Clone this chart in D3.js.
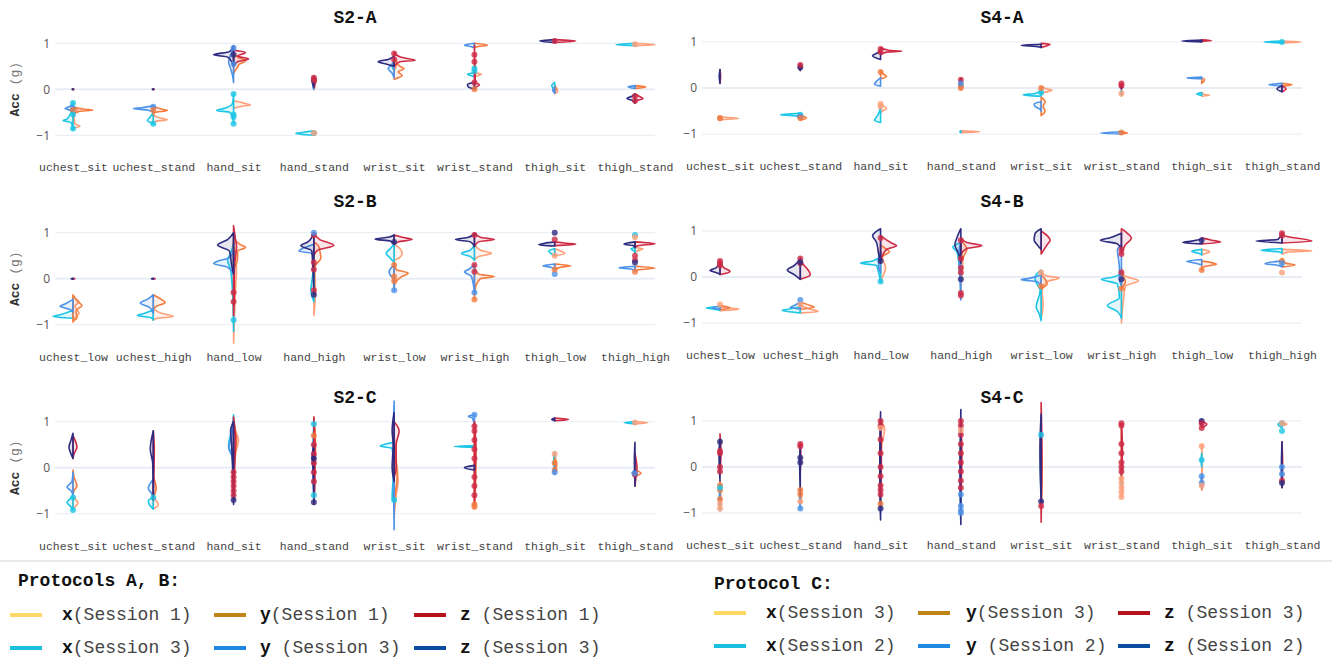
<!DOCTYPE html>
<html>
<head>
<meta charset="utf-8">
<script src="https://cdn.jsdelivr.net/npm/d3@7"></script>
<style>
  body { margin: 0; background: #fff; }
  svg text { font-family: "Liberation Mono", "Courier New", monospace; }
</style>
</head>
<body>
<svg id="chart" width="1332" height="660"></svg>
<script>
// categories
var catsSit = ["uchest_sit", "uchest_stand", "hand_sit", "hand_stand", "wrist_sit", "wrist_stand", "thigh_sit", "thigh_stand"];
var catsLow = ["uchest_low", "uchest_high", "hand_low", "hand_high", "wrist_low", "wrist_high", "thigh_low", "thigh_high"];
var yTicks = [-1, 0, 1];

// series order: x1, y1, z1 (right half), x3, y3, z3 (left half)
// each violin: [value, density, value, density, ...] from top to bottom
var S2A = [
  [[-0.4,0,-0.45,0.2,-0.55,0.05,-0.75,0.1,-0.8,0.35,-0.85,0], [-0.38,0,-0.43,0.5,-0.45,1.0,-0.48,0.3,-0.55,0], [0.01,0,0,0.05,-0.01,0],
   [-0.3,0,-0.5,0.1,-0.65,0.3,-0.68,0.5,-0.72,0.1,-0.88,0], [-0.3,0,-0.38,0.2,-0.42,0.4,-0.46,0.1,-0.55,0], [0.01,0,0,0.05,-0.01,0]],
  [[-0.55,0,-0.62,0.3,-0.66,0.7,-0.7,0.1,-0.75,0], [-0.38,0,-0.44,0.5,-0.46,0.7,-0.5,0.1,-0.55,0], [0.01,0,0,0.05,-0.01,0],
   [-0.5,0,-0.6,0.15,-0.68,0.3,-0.75,0], [-0.36,0,-0.4,0.6,-0.42,1.0,-0.45,0.3,-0.5,0], [0.01,0,0,0.05,-0.01,0]],
  [[-0.25,0,-0.3,0.5,-0.34,0.85,-0.37,0.4,-0.42,0], [0.8,0,0.7,0.2,0.62,0.6,0.55,0.3,0.45,0.15,0.35,0], [0.85,0,0.8,0.6,0.72,0.2,0.66,0.75,0.6,0.2,0.5,0],
   [-0.1,0,-0.3,0.05,-0.42,0.5,-0.46,0.85,-0.5,0.2,-0.6,0.05,-0.75,0], [0.92,0,0.8,0.1,0.6,0.25,0.45,0.15,0.3,0.05,0.15,0], [0.95,0,0.82,0.2,0.75,1.0,0.7,0.3,0.6,0.1,0.5,0]],
  [[-0.93,0,-0.95,0.15,-0.97,0], [0.1,0,0.05,0.05,0,0], [0.28,0,0.2,0.12,0.1,0.05,0.05,0],
   [-0.9,0,-0.94,0.6,-0.96,0.9,-1.0,0], [0.1,0,0.05,0.05,0,0], [0.28,0,0.2,0.1,0.1,0.05,0.05,0]],
  [[0.7,0,0.6,0.15,0.5,0.1,0.4,0], [0.62,0,0.5,0.3,0.45,0.5,0.38,0.2,0.3,0.4,0.22,0], [0.8,0,0.7,0.3,0.63,1.05,0.6,0.3,0.5,0],
   [0.6,0,0.5,0.1,0.4,0], [0.6,0,0.5,0.2,0.45,0.3,0.35,0.1,0.25,0], [0.72,0,0.65,0.3,0.6,0.8,0.55,0.4,0.5,0]],
  [[0.36,0,0.33,0.35,0.3,0.2,0.27,0], [1.0,0,0.96,0.65,0.93,0.2,0.9,0], [0.95,0,0.6,0.02,0.15,0.05,0.1,0.25,0.05,0.1,0,0],
   [0.36,0,0.33,0.35,0.3,0.2,0.27,0], [1.0,0,0.96,0.5,0.93,0.2,0.9,0], [0.15,0,0.1,0.35,0.05,0.3,0,0]],
  [[0.1,0,0.02,0.1,-0.05,0.15,-0.1,0], [0.05,0,0,0.08,-0.05,0], [1.08,0,1.05,1.05,1.02,0],
   [0.15,0,0.08,0.15,0,0.05,-0.08,0], [0.05,0,-0.02,0.1,-0.08,0], [1.08,0,1.05,0.75,1.02,0]],
  [[1.0,0,0.97,1.0,0.95,0], [0.08,0,0.05,0.55,0.02,0], [-0.1,0,-0.15,0.2,-0.2,0.4,-0.25,0.1,-0.3,0],
   [1.0,0,0.97,0.95,0.95,0], [0.08,0,0.05,0.35,0.02,0], [-0.1,0,-0.15,0.15,-0.2,0.4,-0.25,0.1,-0.3,0]]
];

var S4A = [
  [[-0.63,0,-0.66,0.95,-0.69,0], [-0.62,0,-0.65,0.1,-0.68,0], [0.4,0,0.25,0.03,0.1,0],
   [-0.63,0,-0.66,0.1,-0.69,0], [-0.62,0,-0.65,0.05,-0.68,0], [0.4,0,0.25,0.04,0.1,0]],
  [[-0.58,0,-0.62,0.15,-0.66,0.1,-0.7,0], [-0.6,0,-0.65,0.3,-0.7,0], [0.52,0,0.45,0.08,0.38,0],
   [-0.55,0,-0.58,1.0,-0.61,0.1,-0.64,0], [-0.58,0,-0.62,0.15,-0.66,0], [0.52,0,0.45,0.08,0.38,0]],
  [[-0.35,0,-0.45,0.3,-0.5,0.1,-0.55,0], [0.38,0,0.3,0.15,0.25,0.3,0.2,0], [0.88,0,0.82,0.4,0.8,1.05,0.78,0.3,0.72,0],
   [-0.4,0,-0.5,0.05,-0.6,0.15,-0.7,0.3,-0.75,0], [0.22,0,0.15,0.2,0.08,0.3,0.04,0], [0.85,0,0.78,0.1,0.7,0.4,0.62,0]],
  [[-0.93,0,-0.95,0.95,-0.97,0], [0.05,0,0,0.05,-0.02,0], [0.2,0,0.1,0.05,0.05,0],
   [-0.93,0,-0.95,0.05,-0.97,0], [0.1,0,0.05,0.05,0,0], [0.2,0,0.1,0.05,0.05,0]],
  [[0.02,0,-0.02,0.3,-0.05,0.55,-0.1,0.15,-0.15,0], [-0.2,0,-0.3,0.2,-0.4,0.1,-0.5,0.2,-0.6,0], [0.97,0,0.95,0.45,0.92,0.3,0.88,0],
   [-0.05,0,-0.12,0.3,-0.15,0.9,-0.18,0], [-0.3,0,-0.35,0.35,-0.4,0.3,-0.45,0.1,-0.5,0], [0.95,0,0.93,1.0,0.9,0.2,0.88,0]],
  [[-0.05,0,-0.1,0.05,-0.18,0], [-0.95,0,-0.98,0.3,-1.0,0], [0.1,0,0.05,0.06,-0.02,0],
   [-0.05,0,-0.1,0.03,-0.15,0], [-0.95,0,-0.98,1.05,-1.0,0], [0.1,0,0.05,0.06,-0.02,0]],
  [[-0.1,0,-0.14,0.15,-0.16,0.4,-0.18,0], [0.22,0,0.18,0.15,0.14,0.1,0.1,0], [1.05,0,1.03,0.5,1.01,0],
   [-0.1,0,-0.13,0.25,-0.16,0], [0.24,0,0.22,0.75,0.2,0], [1.04,0,1.02,1.0,1.0,0]],
  [[1.02,0,1.0,0.95,0.98,0], [0.1,0,0.07,0.5,0.04,0], [0.05,0,-0.02,0.2,-0.08,0],
   [1.02,0,1.0,0.9,0.98,0], [0.1,0,0.07,0.65,0.04,0], [0.05,0,-0.02,0.25,-0.08,0]]
];

var S2B = [
  [[-0.4,0,-0.5,0.3,-0.6,0.1,-0.75,0.3,-0.85,0.1,-0.95,0], [-0.35,0,-0.5,0.25,-0.58,0.45,-0.7,0.15,-0.85,0.2,-0.92,0], [0.01,0,0,0.1,-0.01,0],
   [-0.68,0,-0.78,0.6,-0.82,1.0,-0.86,0], [-0.45,0,-0.55,0.4,-0.6,0.65,-0.66,0.2,-0.72,0], [0.01,0,0,0.1,-0.01,0]],
  [[-0.65,0,-0.75,0.4,-0.82,1.0,-0.86,0.2,-0.9,0], [-0.35,0,-0.45,0.4,-0.52,0.6,-0.6,0.15,-0.68,0], [0.01,0,0,0.1,-0.01,0],
   [-0.68,0,-0.76,0.5,-0.8,0.8,-0.85,0.1,-0.9,0], [-0.35,0,-0.45,0.3,-0.53,0.65,-0.62,0.2,-0.75,0], [0.01,0,0,0.1,-0.01,0]],
  [[0.8,0,0.5,0.1,0.2,0.15,-0.2,0.1,-0.8,0.05,-1.4,0], [0.9,0,0.75,0.3,0.68,0.6,0.6,0.2,0.45,0.2,0.2,0], [1.15,0,0.85,0.1,0.7,0.15,0.3,0.05,-0.5,0.03,-0.8,0],
   [0.8,0,0.6,0.1,0.4,0.3,0.2,0.15,-0.5,0.03,-1.15,0], [0.6,0,0.45,0.25,0.38,0.8,0.33,1.0,0.25,0.3,0.1,0], [1.0,0,0.85,0.3,0.73,0.8,0.6,0.2,0.3,0.1,0.1,0]],
  [[0.5,0,0.2,0.05,-0.3,0.08,-0.8,0], [0.8,0,0.7,0.25,0.6,0.3,0.45,0.35,0.3,0.1,0.2,0], [1.0,0,0.85,0.3,0.72,1.0,0.62,0.2,0.5,0],
   [0.3,0,0,0.08,-0.25,0.15,-0.5,0], [0.75,0,0.65,0.6,0.6,0.75,0.55,0.1,0.4,0], [1.0,0,0.8,0.3,0.72,0.65,0.6,0.1,-0.35,0]],
  [[0.75,0,0.65,0.3,0.55,0.4,0.45,0.25,0.4,0], [0.35,0,0.2,0.1,0.12,0.7,0.05,0.4,-0.1,0.05,-0.2,0], [0.95,0,0.9,0.4,0.85,0.9,0.8,0.2,0.75,0],
   [0.75,0,0.65,0.2,0.55,0.4,0.45,0.2,0.35,0], [0.3,0,0.15,0.25,0.08,0.2,0,0.05,-0.25,0], [0.95,0,0.9,0.3,0.86,0.95,0.82,0.2,0.75,0]],
  [[0.75,0,0.62,0.3,0.55,0.85,0.48,0.2,0.4,0], [0.25,0,0.1,0.2,0.05,1.0,0,0.3,-0.2,0.05,-0.45,0], [1.0,0,0.9,0.3,0.85,1.0,0.8,0.2,0.7,0],
   [0.75,0,0.62,0.2,0.55,0.65,0.48,0.2,0.4,0], [0.3,0,0.2,0.3,0.15,0.5,0.05,0.15,-0.3,0], [0.98,0,0.9,0.3,0.85,0.95,0.8,0.2,0.7,0]],
  [[0.65,0,0.6,0.3,0.55,0.5,0.5,0], [0.32,0,0.28,0.8,0.25,0.3,0.2,0], [0.8,0,0.77,0.6,0.75,1.05,0.72,0],
   [0.65,0,0.6,0.3,0.55,0.2,0.5,0], [0.32,0,0.28,0.6,0.25,0.2,0.2,0], [0.8,0,0.77,0.5,0.74,0.8,0.71,0]],
  [[0.68,0,0.65,0.4,0.6,0.1,0.55,0], [0.27,0,0.23,1.0,0.2,0.3,0.17,0], [0.8,0,0.76,1.0,0.72,0.2,0.68,0],
   [0.68,0,0.65,0.2,0.6,0.05,0.55,0], [0.27,0,0.24,0.8,0.21,0.2,0.17,0], [0.8,0,0.75,0.55,0.72,0.1,0.68,0]]
];

var S4B = [
  [[-0.65,0,-0.68,0.6,-0.7,0.95,-0.73,0], [-0.62,0,-0.67,0.5,-0.71,0], [0.35,0,0.2,0.2,0.12,0.5,0.08,0.3,0.05,0],
   [-0.64,0,-0.67,0.7,-0.7,0.3,-0.73,0], [-0.63,0,-0.67,0.4,-0.7,0], [0.32,0,0.2,0.2,0.14,0.5,0.1,0.2,0.06,0]],
  [[-0.62,0,-0.7,0.5,-0.75,0.9,-0.78,0], [-0.55,0,-0.62,0.5,-0.66,0.7,-0.7,0], [0.42,0,0.3,0.1,0.2,0.3,0.05,0.5,-0.05,0],
   [-0.65,0,-0.7,0.6,-0.73,0.9,-0.78,0], [-0.55,0,-0.62,0.3,-0.66,0.5,-0.7,0], [0.4,0,0.25,0.3,0.15,0.65,0.05,0.3,-0.05,0]],
  [[0.55,0,0.4,0.1,0.2,0.25,0,0.1,-0.1,0], [0.7,0,0.6,0.3,0.55,0.45,0.48,0.2,0.4,0], [0.9,0,0.75,0.5,0.68,0.8,0.6,0.3,0.35,0],
   [0.45,0,0.35,0.4,0.3,1.0,0.25,0.2,0.1,0.1,-0.1,0], [0.55,0,0.4,0.1,0.2,0.1,0.1,0], [1.05,0,0.9,0.4,0.75,0.2,0.5,0.1,0.3,0]],
  [[0.6,0,0.4,0.1,0,0.05,-0.3,0], [0.8,0,0.6,0.3,0.5,0.2,0.3,0], [0.85,0,0.75,0.3,0.68,1.05,0.62,0.3,0.5,0],
   [0.75,0,0.65,0.4,0.55,0.2,0.3,0.1,-0.1,0], [0.8,0,0.5,0.1,0,0.05,-0.5,0], [1.05,0,0.85,0.2,0.7,0.3,0.5,0.1,0.3,0]],
  [[0.1,0,0.02,0.3,-0.02,0.9,-0.1,0.3,-0.3,0.05,-0.6,0.1,-0.9,0], [0.05,0,-0.05,0.2,-0.15,0.3,-0.25,0], [1.0,0,0.9,0.3,0.8,0.45,0.7,0.3,0.5,0],
   [0.15,0,0,0.3,-0.05,0.3,-0.3,0.05,-0.65,0.25,-0.8,0.1,-0.95,0], [0.05,0,-0.03,0.6,-0.06,1.0,-0.1,0.2,-0.2,0], [1.05,0,0.95,0.3,0.8,0.35,0.7,0.2,0.6,0]],
  [[0.1,0,0,0.3,-0.08,0.85,-0.2,0.2,-0.5,0.1,-1.0,0], [0.2,0,0,0.1,-0.1,0.2,-0.25,0], [1.05,0,0.95,0.3,0.85,0.5,0.7,0.2,0.5,0],
   [0.1,0,0,0.4,-0.05,1.0,-0.15,0.2,-0.45,0.1,-0.62,0.7,-0.75,0.2,-0.9,0], [0.7,0,0.6,0.2,0.2,0.1,-0.05,0.1,-0.2,0], [0.95,0,0.85,0.6,0.8,1.05,0.72,0.2,0.6,0]],
  [[0.6,0,0.55,0.4,0.5,0.1,0.48,0], [0.35,0,0.3,0.6,0.28,0.75,0.22,0.1,0.15,0], [0.85,0,0.8,0.5,0.76,0.95,0.72,0],
   [0.6,0,0.56,0.5,0.52,0.2,0.48,0], [0.38,0,0.34,0.75,0.3,0.3,0.26,0], [0.82,0,0.78,0.5,0.75,0.95,0.72,0]],
  [[0.6,0,0.57,1.5,0.54,0.3,0.5,0], [0.4,0,0.3,0.2,0.26,0.65,0.22,0], [0.97,0,0.9,0.1,0.78,1.5,0.74,0],
   [0.62,0,0.58,1.05,0.55,0.2,0.52,0], [0.35,0,0.29,0.85,0.26,0.3,0.22,0], [0.95,0,0.82,0.2,0.78,1.3,0.74,0]]
];

var S2C = [
  [[-0.6,0,-0.7,0.15,-0.76,0.25,-0.85,0.1,-0.9,0], [-0.05,0,-0.2,0.05,-0.4,0.2,-0.5,0.05,-0.6,0], [0.7,0,0.6,0.1,0.45,0.2,0.3,0.05,0.2,0],
   [-0.62,0,-0.7,0.2,-0.75,0.3,-0.85,0.1,-0.92,0], [-0.1,0,-0.3,0.05,-0.42,0.3,-0.5,0.1,-0.6,0], [0.75,0,0.6,0.1,0.45,0.2,0.3,0.1,0.2,0]],
  [[-0.6,0,-0.72,0.15,-0.8,0.25,-0.9,0], [-0.2,0,-0.45,0.15,-0.6,0.05,-0.7,0], [0.8,0,0.4,0.05,-0.2,0.03,-0.7,0],
   [-0.65,0,-0.72,0.25,-0.8,0.2,-0.9,0], [-0.25,0,-0.45,0.25,-0.55,0.1,-0.65,0], [0.8,0,0.4,0.15,0.1,0.03,-0.7,0]],
  [[1.1,0,0.8,0.1,0.6,0.25,0.3,0.1,-0.6,0], [1.0,0,0.6,0.15,0.2,0.05,-0.7,0], [1.1,0,0.6,0.1,0,0.05,-0.7,0],
   [1.15,0,0.8,0.1,0.5,0.25,0.2,0.05,-0.5,0], [1.0,0,0.6,0.15,0.45,0.25,0.2,0.05,-0.7,0], [1.0,0,0.8,0.15,0.5,0.1,0,0.05,-0.8,0]],
  [[1.0,0,0.5,0.05,-0.5,0], [1.1,0,0.5,0.08,0,0.05,-0.8,0], [1.1,0,0.5,0.05,-0.3,0.05,-0.8,0],
   [1.0,0,0.3,0.05,-0.6,0], [0.8,0,0.3,0.05,-0.6,0], [0.5,0,0.25,0.08,0,0.05,-0.75,0]],
  [[0.7,0,0.2,0.1,-0.3,0.2,-0.6,0.1,-1.1,0], [0.6,0,0.2,0.08,-0.2,0.15,-0.6,0.05,-0.9,0], [1.0,0,0.8,0.25,0.5,0.1,0,0.1,-0.2,0],
   [0.55,0,0.47,0.7,0.42,0.1,0,0.02,-0.65,0.1,-0.75,0], [1.45,0,1.0,0.03,0,0.03,-1.35,0], [1.2,0,0.8,0.1,0.5,0.05,0,0.1,-0.3,0]],
  [[1.0,0,0.5,0.05,-0.5,0.05,-0.9,0], [1.0,0,0.3,0.08,-0.85,0], [1.0,0,0.5,0.06,-0.8,0],
   [0.48,0,0.46,1.0,0.44,0], [1.15,0,1.12,0.3,1.08,0.1,0.9,0], [0.05,0,0,0.5,-0.05,0]],
  [[0.3,0,0.2,0.05,0,0.05,-0.1,0], [0.2,0,0.05,0.1,-0.1,0], [1.08,0,1.05,0.7,1.02,0],
   [0.35,0,0.15,0.05,-0.1,0], [0.05,0,-0.05,0.05,-0.15,0], [1.08,0,1.05,0.15,1.02,0]],
  [[1.0,0,0.98,0.65,0.95,0], [-0.05,0,-0.12,0.3,-0.18,0], [0.3,0,0,0.1,-0.2,0.05,-0.4,0],
   [1.0,0,0.98,0.55,0.95,0], [-0.05,0,-0.12,0.15,-0.18,0], [0.55,0,0.2,0.03,-0.4,0]]
];

var S4C = [
  [[-0.3,0,-0.6,0.03,-0.95,0], [-0.3,0,-0.5,0.03,-0.8,0], [0.72,0,0.3,0.05,-0.1,0],
   [-0.4,0,-0.7,0.03,-0.95,0], [-0.5,0,-0.7,0.03,-0.9,0], [0.6,0,0.3,0.05,-0.3,0]],
  [[-0.5,0,-0.65,0.03,-0.8,0], [-0.45,0,-0.6,0.03,-0.8,0], [0.52,0,0.2,0.03,-0.1,0],
   [-0.5,0,-0.7,0.03,-0.9,0], [-0.5,0,-0.7,0.03,-0.9,0], [0.5,0,0.1,0.03,-0.6,0]],
  [[1.0,0,0.85,0.2,0.4,0.05,-0.5,0], [1.0,0,0.3,0.03,-0.9,0], [1.0,0,0.2,0.04,-0.6,0],
   [1.0,0,0,0.03,-0.9,0], [0.9,0,0,0.03,-1.0,0], [1.2,0,0,0.04,-1.15,0]],
  [[1.0,0,0.3,0.04,-0.5,0], [1.0,0,0.3,0.04,-0.5,0], [1.0,0,0.2,0.04,-0.5,0],
   [0.9,0,0,0.03,-1.0,0], [0.5,0,-0.3,0.03,-1.05,0], [1.25,0,0,0.04,-1.25,0]],
  [[0.9,0,0,0.03,-1.0,0], [0.5,0,0,0.03,-0.8,0], [1.4,0,0.2,0.04,-1.2,0],
   [0.7,0,0,0.03,-0.7,0], [0.7,0,0,0.03,-0.75,0], [1.15,0,0.4,0.06,-0.75,0]],
  [[-0.2,0,-0.4,0.05,-0.65,0], [0.9,0,0.3,0.04,-0.3,0], [0.95,0,0.4,0.05,-0.2,0],
   [0,0,-0.2,0.02,-0.4,0], [], []],
  [[0.5,0,0,0.03,-0.45,0], [-0.2,0,-0.35,0.05,-0.5,0], [1.0,0,0.93,0.25,0.85,0],
   [0.3,0,0.15,0.03,0,0], [-0.15,0,-0.3,0.03,-0.45,0], [1.03,0,0.97,0.1,0.9,0]],
  [[0.97,0,0.93,0.25,0.9,0], [-0.1,0,-0.3,0.03,-0.4,0], [0.55,0,0.1,0.03,-0.45,0],
   [0.97,0,0.93,0.2,0.85,0], [0.05,0,-0.15,0.03,-0.35,0], [0.55,0,0,0.03,-0.45,0]]
];

// sample points: [category index, series index, value]
var S2Apts = [[0,3,-0.3],[0,3,-0.85],[0,4,-0.42],[0,1,-0.45],[0,3,-0.55],[1,4,-0.38],[1,3,-0.75],[1,1,-0.45],
  [2,4,0.9],[2,5,0.75],[2,3,-0.1],[2,3,-0.55],[2,3,-0.6],[2,3,-0.75],[2,4,0.55],[3,3,-0.95],[3,0,-0.95],[3,2,0.2],[3,2,0.25],
  [4,2,0.78],[4,2,0.65],[5,2,0.75],[5,2,0.6],[5,2,0.15],[5,1,0],[5,3,0.45],[5,3,0.4],[6,2,1.05],[7,0,0.98],[7,2,-0.15],[7,2,-0.25]];
var S4Apts = [[0,0,-0.65],[0,1,-0.66],[1,5,0.45],[1,2,0.5],[1,3,-0.58],[1,4,-0.62],[1,1,-0.65],[2,2,0.85],[2,2,0.78],
  [2,1,0.35],[2,0,-0.35],[2,0,-0.4],[3,2,0.18],[3,1,0.05],[3,1,0],[3,4,0.1],[4,3,-0.1],[4,1,0],[5,2,0.05],[5,2,0.1],
  [5,0,-0.12],[5,1,-0.97],[7,3,1.0]];
var S2Bpts = [[2,2,-0.3],[2,2,-0.5],[2,3,-0.9],[3,2,0.95],[3,2,0.35],[3,2,0.2],[3,2,-0.25],[3,5,-0.35],[3,4,1.0],
  [4,5,0.8],[4,1,0.3],[4,1,0.05],[4,4,-0.25],[4,1,-0.05],[5,2,0.95],[5,2,0.3],[5,2,0.15],[5,1,-0.45],[5,4,-0.3],
  [6,5,1.0],[6,2,0.85],[6,0,0.5],[6,4,0.1],[6,1,0.2],[7,3,0.95],[7,0,0.9],[7,2,0.5],[7,2,0.4],[7,5,0.35],[7,1,0.15]];
var S4Bpts = [[0,2,0.3],[0,2,0.25],[0,2,0.35],[0,0,-0.6],[1,2,0.3],[1,2,0.4],[1,5,0.32],[1,4,-0.5],[1,0,-0.6],
  [2,2,0.85],[2,3,-0.1],[2,5,0.35],[3,2,0.8],[3,2,0.4],[3,2,0.2],[3,2,0.1],[3,5,-0.05],[3,2,-0.35],[3,2,-0.4],
  [4,1,-0.2],[4,0,0.1],[5,2,0.6],[5,2,0.5],[5,2,0.1],[5,1,-0.25],[5,5,-0.05],[6,5,0.8],[6,1,0.15],
  [7,2,0.95],[7,2,0.9],[7,1,0.35],[7,4,0.3],[7,0,0.1]];
var S2Cpts = [[0,3,-0.92],[0,3,-0.65],[1,3,-0.65],[2,2,-0.1],[2,2,-0.2],[2,2,-0.3],[2,2,-0.4],[2,2,-0.5],[2,2,-0.6],[2,5,-0.7],
  [3,2,0.5],[3,2,0.3],[3,2,0.1],[3,2,-0.1],[3,2,-0.3],[3,5,0.2],[3,5,-0.75],[3,3,0.95],[3,1,0.7],[3,3,-0.6],[4,3,-0.7],
  [5,2,0.9],[5,2,0.8],[5,2,0.6],[5,2,0.4],[5,2,0.2],[5,2,-0.2],[5,2,-0.4],[5,2,-0.6],[5,1,-0.8],[5,1,-0.85],[5,4,1.15],
  [6,0,0.3],[6,1,0.1],[6,1,-0.05],[6,4,-0.1],[7,0,0.98],[7,2,-0.15],[7,4,-0.12]];
var S4Cpts = [[0,5,0.55],[0,2,0.35],[0,2,0.3],[0,2,0],[0,2,-0.1],[0,1,-0.4],[0,1,-0.5],[0,1,-0.7],[0,0,-0.8],[0,0,-0.9],[0,3,-0.45],
  [1,2,0.5],[1,2,0.45],[1,5,0.2],[1,5,0.1],[1,1,-0.5],[1,1,-0.6],[1,0,-0.75],[1,4,-0.9],
  [2,2,1.0],[2,2,0.9],[2,2,0.6],[2,2,0.3],[2,2,0],[2,2,-0.2],[2,2,-0.4],[2,2,-0.5],[2,2,-0.6],[2,1,-0.8],[2,5,-0.9],[2,0,0.85],
  [3,2,1.0],[3,2,0.9],[3,2,0.7],[3,2,0.5],[3,2,0.3],[3,2,0.1],[3,2,-0.1],[3,2,-0.3],[3,2,-0.45],[3,4,-0.6],[3,4,-0.85],[3,4,-0.95],[3,4,-1.0],[3,0,0.8],
  [4,5,-0.75],[4,2,-0.85],[4,3,0.7],
  [5,2,0.95],[5,2,0.9],[5,2,0.5],[5,2,0.3],[5,2,0.1],[5,2,0],[5,2,-0.1],[5,0,-0.25],[5,0,-0.35],[5,0,-0.45],[5,0,-0.55],[5,0,-0.65],
  [6,5,1.0],[6,2,0.95],[6,2,0.85],[6,0,0.45],[6,3,0.15],[6,4,-0.2],[6,4,-0.35],[6,0,-0.4],
  [7,3,0.95],[7,0,0.95],[7,3,0.78],[7,4,0],[7,4,-0.15],[7,2,-0.3],[7,5,-0.35]];

var seriesColors = ["#FFA07A", "#F47B3F", "#CF2B46", "#1CC6E6", "#4C93E8", "#2E2C80"];
var drawOrder = [0, 3, 1, 4, 2, 5];

// legend
var legendLeft = [["x", "(Session 1)", "#FFD966"], ["y", "(Session 1)", "#BF8516"], ["z", " (Session 1)", "#B5121B"],
                  ["x", "(Session 3)", "#1AC0E0"], ["y", " (Session 3)", "#1F88E0"], ["z", " (Session 3)", "#0D4DA1"]];
var legendRight = [["x", "(Session 3)", "#FFD966"], ["y", "(Session 3)", "#BF8516"], ["z", " (Session 3)", "#B5121B"],
                   ["x", "(Session 2)", "#1AC0E0"], ["y", " (Session 2)", "#1F88E0"], ["z", " (Session 2)", "#0D4DA1"]];

var panels = [
  {title: "S2-A", cats: catsSit, data: S2A, pts: S2Apts, x0: 55, y0: 89.3, ty: 17, yTitle: true},
  {title: "S4-A", cats: catsSit, data: S4A, pts: S4Apts, x0: 702, y0: 88, ty: 17},
  {title: "S2-B", cats: catsLow, data: S2B, pts: S2Bpts, x0: 55, y0: 278.7, ty: 201, yTitle: true},
  {title: "S4-B", cats: catsLow, data: S4B, pts: S4Bpts, x0: 702, y0: 277, ty: 201},
  {title: "S2-C", cats: catsSit, data: S2C, pts: S2Cpts, x0: 55, y0: 467.7, ty: 397, yTitle: true},
  {title: "S4-C", cats: catsSit, data: S4C, pts: S4Cpts, x0: 702, y0: 467, ty: 397}
];

var svg = d3.select("#chart");
var plotW = 600;
var unit = 46;
var wScale = d3.scaleLinear().domain([0, 1]).range([0, 20]);

panels.forEach(function(p) {
  var g = svg.append("g");
  var x = d3.scalePoint().domain(p.cats).range([p.x0 + 18, p.x0 + 580]);
  var y = d3.scaleLinear().domain([-1, 1]).range([p.y0 + unit, p.y0 - unit]);

  // grid
  g.selectAll("line.grid")
    .data(yTicks)
    .enter().append("line")
    .attr("x1", p.x0).attr("x2", p.x0 + plotW)
    .attr("y1", function(d) { return y(d); })
    .attr("y2", function(d) { return y(d); })
    .attr("stroke", "#e8ecf4")
    .attr("stroke-width", function(d) { return d === 0 ? 2 : 1; });

  var yAxis = g.append("g")
    .attr("transform", "translate(" + p.x0 + ",0)")
    .call(d3.axisLeft(y).tickValues(yTicks).tickSize(0).tickPadding(5).tickFormat(d3.format("d")));
  yAxis.select(".domain").remove();
  yAxis.selectAll("text")
    .style("font-family", "'Open Sans', sans-serif")
    .style("font-size", "12px")
    .attr("fill", "#555");

  var xAxis = g.append("g")
    .attr("transform", "translate(0," + (p.y0 + 69) + ")")
    .call(d3.axisBottom(x).tickSize(0).tickPadding(5));
  xAxis.select(".domain").remove();
  xAxis.selectAll("text")
    .style("font-size", "11.5px")
    .attr("fill", "#444");

  g.append("text")
    .attr("x", p.x0 + plotW / 2)
    .attr("y", p.ty + 6)
    .attr("text-anchor", "middle")
    .style("font-size", "18px")
    .style("font-weight", "bold")
    .attr("fill", "#111")
    .text(p.title);

  if (p.yTitle) {
    var t = g.append("text")
      .attr("transform", "translate(19," + p.y0 + ") rotate(-90)")
      .attr("text-anchor", "middle")
      .style("font-size", "13px");
    t.append("tspan").style("font-weight", "bold").attr("fill", "#333").text("Acc");
    t.append("tspan").attr("fill", "#777").text(" (g)");
  }

  // violins
  p.cats.forEach(function(cat, ci) {
    var cx = x(cat);
    drawOrder.forEach(function(si) {
      var flat = p.data[ci][si];
      if (!flat || flat.length === 0) return;
      var knots = [];
      for (var k = 0; k < flat.length; k += 2) knots.push([flat[k], flat[k + 1]]);
      var dir = si < 3 ? 1 : -1;
      var area = d3.area()
        .curve(d3.curveMonotoneY)
        .y(function(d) { return y(d[0]); })
        .x0(cx)
        .x1(function(d) { return cx + dir * wScale(d[1]); });
      g.append("path")
        .datum(knots)
        .attr("d", area)
        .attr("fill", seriesColors[si])
        .attr("fill-opacity", 0.12)
        .attr("stroke", seriesColors[si])
        .attr("stroke-width", 1.6)
        .attr("stroke-linejoin", "round");
    });
  });

  g.selectAll("circle.pt")
    .data(p.pts)
    .enter().append("circle")
    .attr("cx", function(d) { return x(p.cats[d[0]]); })
    .attr("cy", function(d) { return y(d[2]); })
    .attr("r", 3)
    .attr("fill", function(d) { return seriesColors[d[1]]; })
    .attr("opacity", 0.8);
});

// separator
svg.append("line")
  .attr("x1", 0).attr("x2", 1332)
  .attr("y1", 561).attr("y2", 561)
  .attr("stroke", "#e2e2e2").attr("stroke-width", 1.5);

function drawLegend(title, items, tx, ty, lineX, textX, rows) {
  svg.append("text")
    .attr("x", tx).attr("y", ty + 6)
    .style("font-size", "18px").style("font-weight", "bold")
    .attr("fill", "#111")
    .text(title);
  items.forEach(function(it, i) {
    var col = i % 3, row = Math.floor(i / 3);
    var yy = rows[row];
    svg.append("line")
      .attr("x1", lineX[col]).attr("x2", lineX[col] + 32)
      .attr("y1", yy).attr("y2", yy)
      .attr("stroke", it[2]).attr("stroke-width", 4);
    var t = svg.append("text")
      .attr("x", textX[col]).attr("y", yy + 5)
      .style("font-size", "18px");
    t.append("tspan").style("font-weight", "bold").attr("fill", "#111").text(it[0]);
    t.append("tspan").attr("fill", "#444").style("white-space", "pre").text(it[1]);
  });
}

drawLegend("Protocols A, B:", legendLeft, 18, 580, [10, 214, 414], [62, 260, 460], [615, 648]);
drawLegend("Protocol C:", legendRight, 714, 583, [714, 918, 1118], [766, 966, 1164], [613, 646]);
</script>
</body>
</html>
